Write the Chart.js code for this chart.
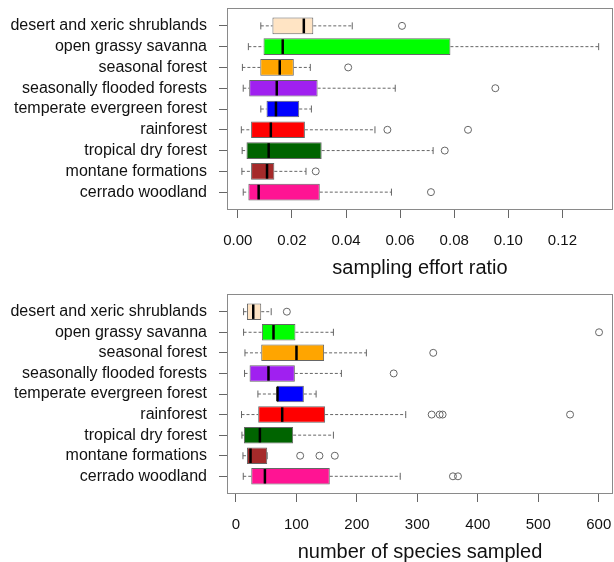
<!DOCTYPE html>
<html>
<head>
<meta charset="utf-8">
<script src="https://cdn.jsdelivr.net/npm/chart.js@4.4.1/dist/chart.umd.min.js"></script>
<style>
  body { margin: 0; background: #fff; }
  .panel { position: absolute; left: 0; width: 614px; height: 281px; }
</style>
</head>
<body>
<div class="panel" style="top:0"><canvas id="effort-chart"></canvas></div>
<div class="panel" style="top:281px"><canvas id="species-chart"></canvas></div>
<script>
const habitats = ['desert and xeric shrublands', 'open grassy savanna', 'seasonal forest', 'seasonally flooded forests', 'temperate evergreen forest', 'rainforest', 'tropical dry forest', 'montane formations', 'cerrado woodland'];
const boxColors = ['#FFE4C4', '#00FF00', '#FFA500', '#A020F0', '#0000FF', '#FF0000', '#006400', '#A52A2A', '#FF1493'];

// sampling effort ratio
const effortLow = [0.0085, 0.0039, 0.0017, 0.0020, 0.0085, 0.0013, 0.0016, 0.0015, 0.0020];
const effortQ1 = [0.0128, 0.0095, 0.0083, 0.0042, 0.0106, 0.0049, 0.0032, 0.0049, 0.0039];
const effortMedian = [0.0244, 0.0166, 0.0155, 0.0144, 0.0141, 0.0122, 0.0114, 0.0108, 0.0077];
const effortQ3 = [0.0279, 0.0786, 0.0207, 0.0295, 0.0227, 0.0248, 0.0310, 0.0135, 0.0303];
const effortHigh = [0.0423, 0.1334, 0.0268, 0.0582, 0.0272, 0.0507, 0.0722, 0.0252, 0.0568];
const effortOutliers = [[0.0607], [], [0.0408], [0.0952], [], [0.0553, 0.0851], [0.0765], [0.0288], [0.0714]];
const effortTicks = [0, 0.02, 0.04, 0.06, 0.08, 0.10, 0.12];

// number of species sampled
const speciesLow = [12.6, 12.6, 14.9, 14.2, 36.3, 9.2, 9.9, 11.6, 12.1];
const speciesQ1 = [18.2, 42.9, 41.8, 22.5, 67.7, 36.8, 13.2, 18.2, 25.3];
const speciesMedian = [28.6, 62.1, 100.1, 53.8, 68.7, 76.5, 39.6, 24.1, 47.9];
const speciesQ3 = [41.8, 98.4, 145.8, 97.4, 112.3, 147.5, 94.6, 51.7, 155.2];
const speciesHigh = [58.3, 161.2, 215.7, 174.4, 132.6, 280.8, 161.2, 51.7, 271.7];
const speciesOutliers = [[84.2], [600.5], [326.3], [260.9], [], [323.7, 336.9, 341.8, 552.6], [], [106.2, 138.1, 163.5], [358.9, 367.2]];
const speciesTicks = [0, 100, 200, 300, 400, 500, 600];

Chart.defaults.font.family = "'Liberation Sans', Arial, sans-serif";
Chart.defaults.color = '#111';

// whiskers, medians, outliers and the frame round the plot
const boxExtras = {
  id: 'boxExtras',
  afterDatasetsDraw(chart) {
    const { ctx, chartArea, scales: { x, y } } = chart;
    const s = chart.data.datasets[0].stats;
    const bars = chart.getDatasetMeta(0).data;
    ctx.save();
    bars.forEach((bar, i) => {
      const cy = y.getPixelForValue(i + 1);
      const half = bar.height / 2;
      const lo = x.getPixelForValue(s.low[i]);
      const hi = x.getPixelForValue(s.high[i]);

      ctx.strokeStyle = '#666';
      ctx.lineWidth = 1;
      ctx.setLineDash([3, 2]);
      ctx.beginPath();
      ctx.moveTo(lo, cy);
      ctx.lineTo(x.getPixelForValue(s.q1[i]), cy);
      ctx.moveTo(x.getPixelForValue(s.q3[i]), cy);
      ctx.lineTo(hi, cy);
      ctx.stroke();
      ctx.setLineDash([]);

      ctx.beginPath();
      ctx.moveTo(lo, cy - 3.5);
      ctx.lineTo(lo, cy + 3.5);
      ctx.moveTo(hi, cy - 3.5);
      ctx.lineTo(hi, cy + 3.5);
      ctx.stroke();

      const mx = x.getPixelForValue(s.median[i]);
      ctx.strokeStyle = '#000';
      ctx.lineWidth = 2.5;
      ctx.beginPath();
      ctx.moveTo(mx, cy - half + 1);
      ctx.lineTo(mx, cy + half - 1);
      ctx.stroke();

      ctx.strokeStyle = '#666';
      ctx.lineWidth = 1;
      s.outliers[i].forEach(v => {
        ctx.beginPath();
        ctx.arc(x.getPixelForValue(v), cy, 3.5, 0, Math.PI * 2);
        ctx.stroke();
      });
    });
    ctx.strokeStyle = '#8a8a8a';
    ctx.lineWidth = 1;
    ctx.strokeRect(chartArea.left + 0.5, chartArea.top + 0.5, chartArea.width - 1, chartArea.height - 1);
    ctx.restore();
  }
};

function noPadding(scale) {
  scale.paddingTop = 0;
  scale.paddingBottom = 0;
  scale.paddingLeft = 0;
  scale.paddingRight = 0;
}

function makeBoxChart(id, stats, xMin, xMax, ticks, fmt, title, padTop, axisHeight, titlePad) {
  const data = habitats.map((h, i) => ({ x: [stats.q1[i], stats.q3[i]], y: i + 1 }));
  return new Chart(document.getElementById(id), {
    type: 'bar',
    data: {
      datasets: [{
        data: data,
        stats: stats,
        backgroundColor: boxColors,
        borderColor: '#666',
        borderWidth: 1,
        borderSkipped: false,
        barPercentage: 0.8,
        categoryPercentage: 1
      }]
    },
    options: {
      indexAxis: 'y',
      animation: false,
      responsive: true,
      maintainAspectRatio: false,
      devicePixelRatio: 1,
      layout: { padding: { top: padTop, right: 1, left: 0, bottom: 0 } },
      plugins: { legend: { display: false }, tooltip: { enabled: false } },
      scales: {
        x: {
          type: 'linear',
          min: xMin,
          max: xMax,
          afterBuildTicks: scale => { scale.ticks = ticks.map(v => ({ value: v })); },
          afterFit: scale => { scale.height = axisHeight; noPadding(scale); },
          border: { display: false },
          grid: { drawOnChartArea: false, drawTicks: true, tickLength: 8, tickColor: '#666' },
          ticks: { font: { size: 15 }, padding: 14, maxRotation: 0, autoSkip: false, callback: v => fmt(v) },
          title: { display: true, text: title, font: { size: 20, lineHeight: 1 }, color: '#111', padding: { top: 0, bottom: titlePad } }
        },
        y: {
          type: 'linear',
          reverse: true,
          offset: false,
          min: 0.14,
          max: 9.86,
          afterBuildTicks: scale => { scale.ticks = habitats.map((h, i) => ({ value: i + 1 })); },
          afterFit: scale => { scale.width = 227; noPadding(scale); },
          border: { display: false },
          grid: { offset: false, drawOnChartArea: false, drawTicks: true, tickLength: 8, tickColor: '#666' },
          ticks: { font: { size: 16 }, padding: 12, autoSkip: false, callback: v => habitats[Math.round(v) - 1] }
        }
      }
    },
    plugins: [boxExtras]
  });
}

makeBoxChart('effort-chart',
  { low: effortLow, q1: effortQ1, median: effortMedian, q3: effortQ3, high: effortHigh, outliers: effortOutliers },
  -0.0040, 0.1387, effortTicks, v => v.toFixed(2), 'sampling effort ratio', 8, 71, 3);

makeBoxChart('species-chart',
  { low: speciesLow, q1: speciesQ1, median: speciesMedian, q3: speciesQ3, high: speciesHigh, outliers: speciesOutliers },
  -14.8, 623.6, speciesTicks, v => String(v), 'number of species sampled', 13, 68, 0);
</script>
</body>
</html>
